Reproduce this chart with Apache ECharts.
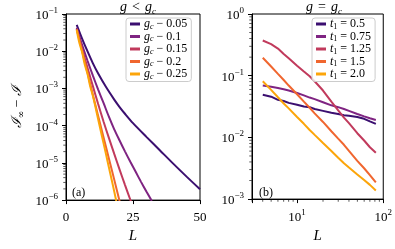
<!DOCTYPE html>
<html><head><meta charset="utf-8">
<script src="https://cdn.jsdelivr.net/npm/echarts@6/dist/echarts.min.js"></script>
<style>html,body{margin:0;padding:0;background:#fff}#c{width:395px;height:249px}</style>
</head><body><div id="c"></div>
<script>
// ---- Panel (a): g < g_c ----
const namesA = ['gc-0.05','gc-0.1','gc-0.15','gc-0.2','gc-0.25'];
const labelsA = ['0.05','0.1','0.15','0.2','0.25'];
const LA1 = [4,6,8,10,12,15,18,20,22,25,30,35,40,45,50];
const A1 = [5.13e-2,2.19e-2,1.0e-2,4.79e-3,2.51e-3,1.07e-3,5.01e-4,3.16e-4,2.09e-4,1.17e-4,5.01e-5,2.19e-5,9.55e-6,4.27e-6,1.95e-6];
const LA2 = [4,6,8,10,12,14,16,18,20,22,24,26,28,30,32];
const A2 = [4.27e-2,1.48e-2,5.62e-3,2.24e-3,9.33e-4,4.07e-4,1.74e-4,7.94e-5,3.98e-5,2.04e-5,1.07e-5,5.75e-6,3.09e-6,1.70e-6,9.55e-7];
const LA3 = [4,6,8,10,12,14,16,18,20,22,24,26];
const A3 = [3.98e-2,1.17e-2,3.63e-3,1.17e-3,3.80e-4,1.29e-4,4.68e-5,1.74e-5,6.61e-6,2.57e-6,1.02e-6,4.07e-7];
const LA4 = [4,6,8,10,12,14,16,18,20,22];
const A4 = [3.98e-2,1.02e-2,2.69e-3,6.92e-4,1.82e-4,4.90e-5,1.32e-5,3.55e-6,9.33e-7,2.51e-7];
const LA5 = [4,5,6,7,8,9,10,11,12,13,14,15,16,17,18,19,20];
const A5 = [3.72e-2,1.66e-2,9.55e-3,4.37e-3,2.51e-3,1.17e-3,6.46e-4,3.16e-4,1.48e-4,7.08e-5,3.39e-5,1.62e-5,7.59e-6,3.63e-6,1.70e-6,7.94e-7,3.80e-7];

// ---- Panel (b): g = g_c ----
const namesB = ['t1=0.5','t1=0.75','t1=1.25','t1=1.5','t1=2.0'];
const labelsB = ['0.5','0.75','1.25','1.5','2.0'];
const LB = [4,5,6,7,8,10,12,14,16,20,25,30,35,40,50,60,70,82];
const B1 = [4.90e-2,4.57e-2,4.07e-2,3.89e-2,3.63e-2,3.39e-2,3.16e-2,3.09e-2,2.88e-2,2.69e-2,2.51e-2,2.40e-2,2.29e-2,2.24e-2,2.14e-2,2.00e-2,1.82e-2,1.66e-2];
const B2 = [6.92e-2,6.61e-2,6.31e-2,6.03e-2,5.75e-2,5.25e-2,4.79e-2,4.42e-2,4.17e-2,3.72e-2,3.31e-2,3.09e-2,2.88e-2,2.69e-2,2.40e-2,2.19e-2,2.04e-2,1.91e-2];
const B3 = [3.72e-1,3.24e-1,2.75e-1,2.24e-1,1.91e-1,1.45e-1,1.17e-1,9.77e-2,8.13e-2,5.75e-2,3.80e-2,2.75e-2,2.09e-2,1.70e-2,1.17e-2,8.91e-3,6.92e-3,5.62e-3];
const B4 = [1.95e-1,1.41e-1,1.07e-1,8.51e-2,6.92e-2,5.01e-2,3.80e-2,3.02e-2,2.45e-2,1.78e-2,1.26e-2,9.55e-3,7.59e-3,6.03e-3,4.17e-3,3.16e-3,2.45e-3,1.86e-3];
const B5 = [8.13e-2,5.89e-2,4.47e-2,3.55e-2,2.95e-2,2.14e-2,1.66e-2,1.32e-2,1.10e-2,8.13e-3,6.03e-3,4.68e-3,3.80e-3,3.24e-3,2.51e-3,2.04e-3,1.70e-3,1.38e-3];

// ---- ticks ----
const xTicksA = [0,25,50];
const minorYA = [];
const minorYB = [];
const minorXB = [3,4,5,6,7,8,9,20,30,40,50,60,70,80,90];
const mult = [2,3,4,5,6,7,8,9];
[-6,-5,-4,-3,-2].forEach(k=>mult.forEach(m=>minorYA.push(+(m+'e'+k))));
[-3,-2,-1].forEach(k=>mult.forEach(m=>minorYB.push(+(m+'e'+k))));

const colors = ['#3b0f70','#7f2482','#c13a5c','#f0662f','#fca50a'];
const FONT = 'Liberation Serif';

const chart = echarts.init(document.getElementById('c'), null, {renderer:'canvas'});

function expLabel(v){
  const e = Math.round(Math.log10(v));
  if (Math.abs(Math.log10(v) - e) > 1e-6) return '';
  return '{b|10}{s|' + (e < 0 ? '\u2212' + (-e) : e) + '}';
}
const expRich = {
  b:{fontFamily:FONT,fontSize:13,color:'#000',lineHeight:16,verticalAlign:'bottom'},
  s:{fontFamily:FONT,fontSize:9,color:'#000',verticalAlign:'top',lineHeight:16}
};
const legRich = {
  i:{fontFamily:FONT,fontStyle:'italic',fontSize:12,color:'#000',lineHeight:13},
  sub:{fontFamily:FONT,fontStyle:'italic',fontSize:8,color:'#000',verticalAlign:'bottom',lineHeight:13,padding:[4,0,0,0]},
  subn:{fontFamily:FONT,fontSize:8,color:'#000',verticalAlign:'bottom',lineHeight:13,padding:[4,0,0,0]},
  n:{fontFamily:FONT,fontSize:12,color:'#000',lineHeight:13}
};
const titleRich = {
  i:{fontFamily:FONT,fontStyle:'italic',fontWeight:'normal',fontSize:14,color:'#000',lineHeight:15},
  n:{fontFamily:FONT,fontWeight:'normal',fontSize:14,color:'#000',lineHeight:15},
  sub:{fontFamily:FONT,fontStyle:'italic',fontWeight:'normal',fontSize:9,color:'#000',verticalAlign:'bottom',lineHeight:15,padding:[4,0,0,0]}
};

function axisCommon(){
  return {
    axisLine:{show:true,onZero:false,lineStyle:{color:'#000',width:1}},
    axisTick:{show:true,inside:false,length:4,lineStyle:{color:'#000',width:1}},
    splitLine:{show:false},
    minorTick:{show:false}
  };
}

const series = [];
const dataA = [[LA1,A1],[LA2,A2],[LA3,A3],[LA4,A4],[LA5,A5]];
dataA.forEach((d,i)=>{
  series.push({name:namesA[i],type:'line',xAxisIndex:0,yAxisIndex:0,showSymbol:false,symbol:'none',smooth:0.3,
    data:d[0].map((x,j)=>[x,d[1][j]]),lineStyle:{width:2,color:colors[i]},itemStyle:{color:colors[i]},clip:true,z:3});
});
const dataB = [B1,B2,B3,B4,B5];
dataB.forEach((d,i)=>{
  series.push({name:namesB[i],type:'line',xAxisIndex:1,yAxisIndex:1,showSymbol:false,symbol:'none',
    data:LB.map((x,j)=>[x,d[j]]),lineStyle:{width:2,color:colors[i]},itemStyle:{color:colors[i]},clip:true,z:3});
});
// minor ticks drawn through the axis scales
series.push({type:'scatter',xAxisIndex:0,yAxisIndex:0,silent:true,clip:false,symbol:'rect',symbolSize:[2.5,0.8],symbolOffset:[-1.5,0],
  itemStyle:{color:'#000'},data:minorYA.map(v=>[0,v]),z:5});
series.push({type:'scatter',xAxisIndex:1,yAxisIndex:1,silent:true,clip:false,symbol:'rect',symbolSize:[2.5,0.8],symbolOffset:[-1.5,0],
  itemStyle:{color:'#000'},data:minorYB.map(v=>[3,v]),z:5});
series.push({type:'scatter',xAxisIndex:1,yAxisIndex:1,silent:true,clip:false,symbol:'rect',symbolSize:[0.8,2.5],symbolOffset:[0,1.5],
  itemStyle:{color:'#000'},data:minorXB.map(v=>[v,1e-3]),z:5});

const legendBase = {
  orient:'vertical',icon:'rect',itemWidth:10,itemHeight:3,itemGap:0,
  backgroundColor:'rgba(255,255,255,0.8)',borderColor:'#cccccc',borderWidth:1,borderRadius:3,
  padding:[0,4,1,4],textStyle:{rich:legRich,padding:[0,0,0,-1]}
};

const option = {
  backgroundColor:'#fff',
  animation:false,
  color:colors,
  grid:[
    {left:66,top:14,width:134,height:192,show:true,borderColor:'#000',borderWidth:1,backgroundColor:'transparent'},
    {left:252,top:14,width:134,height:192,show:true,borderColor:'#000',borderWidth:1,backgroundColor:'transparent'}
  ],
  title:[
    {text:'{i|g} {n|<} {i|g}{sub|c}',left:133,top:-7,textAlign:'center',textStyle:{fontWeight:'normal',rich:titleRich}},
    {text:'{i|g} {n|=} {i|g}{sub|c}',left:319,top:-7,textAlign:'center',textStyle:{fontWeight:'normal',rich:titleRich}}
  ],
  legend:[
    Object.assign({},legendBase,{left:126,top:18,data:namesA,
      formatter:n=>'{i|g}{sub|c}{n| \u2212 '+labelsA[namesA.indexOf(n)]+'}'}),
    Object.assign({},legendBase,{left:312,top:18,data:namesB,
      formatter:n=>'{i|t}{subn|1}{n| = '+labelsB[namesB.indexOf(n)]+'}'})
  ],
  xAxis:[
    Object.assign(axisCommon(),{type:'value',gridIndex:0,min:xTicksA[0],max:xTicksA[2],interval:xTicksA[1]-xTicksA[0],
      axisLabel:{fontFamily:FONT,fontSize:13,color:'#000',margin:11},
      name:'L',nameLocation:'middle',nameGap:28,nameTextStyle:{fontFamily:FONT,fontStyle:'italic',fontSize:15,color:'#000'}}),
    Object.assign(axisCommon(),{type:'log',logBase:10,gridIndex:1,min:3,max:100,
      axisLabel:{formatter:expLabel,rich:expRich,margin:9,showMinLabel:true},
      name:'L',nameLocation:'middle',nameGap:28,nameTextStyle:{fontFamily:FONT,fontStyle:'italic',fontSize:15,color:'#000'}})
  ],
  yAxis:[
    Object.assign(axisCommon(),{type:'log',logBase:10,gridIndex:0,min:1e-6,max:1e-1,
      axisLabel:{formatter:expLabel,rich:expRich,margin:8},
      name:'{c|\u2110}{s|\u221E}{n| \u2212 }{c|\u2110}',nameLocation:'middle',nameGap:40,nameRotate:90,
      nameTextStyle:{rich:{
        c:{fontFamily:'DejaVu Serif',fontStyle:'italic',fontSize:14,color:'#000',lineHeight:18},
        s:{fontFamily:'DejaVu Serif',fontSize:9,color:'#000',verticalAlign:'bottom',lineHeight:18,padding:[5,0,0,0]},
        n:{fontFamily:FONT,fontSize:14,color:'#000',lineHeight:18}}}}),
    Object.assign(axisCommon(),{type:'log',logBase:10,gridIndex:1,min:1e-3,max:1,
      axisLabel:{formatter:expLabel,rich:expRich,margin:8}})
  ],
  graphic:[
    {type:'text',left:72,top:187,style:{text:'(a)',font:'12px "Liberation Serif"',fill:'#000'}},
    {type:'text',left:259,top:187,style:{text:'(b)',font:'12px "Liberation Serif"',fill:'#000'}}
  ],
  series:series
};
chart.setOption(option);
</script></body></html>
